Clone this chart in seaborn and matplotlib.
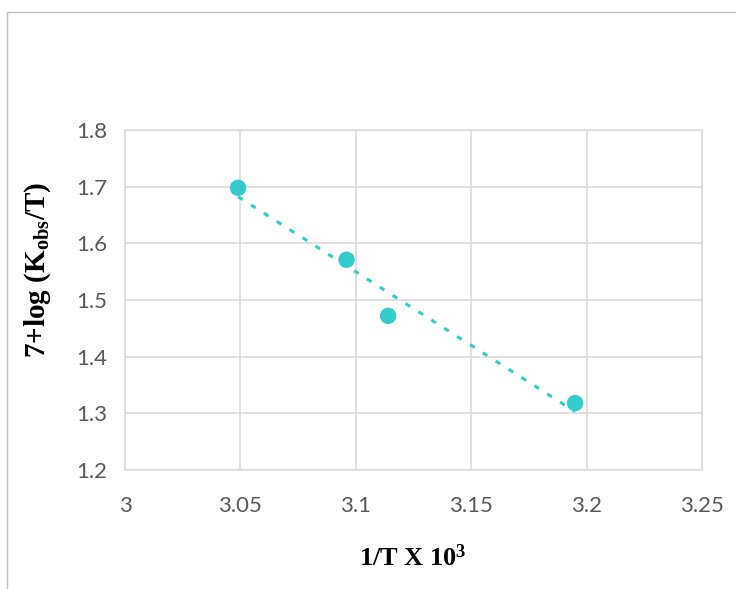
import numpy as np
import pandas as pd
import seaborn as sns
import matplotlib.pyplot as plt
from matplotlib.lines import Line2D

# Arrhenius-type data: inverse temperature (x 10^3) and 7 + log(Kobs/T)
inv_T = [3.049, 3.096, 3.114, 3.195]
log_k = [1.698, 1.571, 1.472, 1.318]

x_ticks = [3.0, 3.05, 3.1, 3.15, 3.2, 3.25]
x_tick_labels = ["3", "3.05", "3.1", "3.15", "3.2", "3.25"]
y_ticks = [1.2, 1.3, 1.4, 1.5, 1.6, 1.7, 1.8]
y_tick_labels = ["1.2", "1.3", "1.4", "1.5", "1.6", "1.7", "1.8"]

df = pd.DataFrame({"x": inv_T, "y": log_k})

sns.set_theme(style="white")
plt.rcParams["font.family"] = ["Lato", "DejaVu Sans"]
plt.rcParams["mathtext.default"] = "regular"

teal = "#33CCCC"
grid_c = "#D9D9D9"
tick_c = "#595959"

fig = plt.figure(figsize=(7.36, 5.89), dpi=100)
ax = fig.add_axes([125 / 736, 1 - 470 / 589, 577 / 736, 340 / 589])

# Linear trendline across the data range
sns.regplot(data=df, x="x", y="y", ax=ax, scatter=False, ci=None, truncate=True,
            color=teal, line_kws=dict(linestyle=(0, (1.8, 3.2)), linewidth=2.2,
                                      dash_capstyle="butt", zorder=2))
sns.scatterplot(data=df, x="x", y="y", ax=ax, color=teal, s=140,
                edgecolor="none", zorder=3)

ax.set_xlim(3.0, 3.25)
ax.set_ylim(1.2, 1.8)
ax.set_xticks(x_ticks)
ax.set_xticklabels(x_tick_labels)
ax.set_yticks(y_ticks)
ax.set_yticklabels(y_tick_labels)
ax.grid(True, color=grid_c, linewidth=1.1)
ax.set_axisbelow(True)
for sp in ax.spines.values():
    sp.set_color(grid_c)
    sp.set_linewidth(1.1)
ax.tick_params(axis="both", length=0, labelsize=16, labelcolor=tick_c)
ax.tick_params(axis="x", pad=19)
ax.tick_params(axis="y", pad=13)

ax.set_xlabel("")
ax.set_ylabel("")
fig.text(413 / 736, 1 - 558 / 589, r"1/T X 10$^{3}$", ha="center", va="center",
         fontsize=19, fontweight="bold", family="Liberation Serif", color="black")
fig.text(38 / 736, 1 - 270 / 589, r"7+log (K$_{obs}$/T)", ha="center", va="center",
         rotation=90, fontsize=21, fontweight="bold", family="Liberation Serif",
         color="black")

# Outer chart frame
fig.add_artist(Line2D([7 / 736, 7 / 736], [0, 1 - 12 / 589], transform=fig.transFigure,
                      color="#BFBFBF", linewidth=1.0))
fig.add_artist(Line2D([7 / 736, 1], [1 - 12 / 589, 1 - 12 / 589], transform=fig.transFigure,
                      color="#BFBFBF", linewidth=1.0))

fig.savefig("out.png", dpi=100)
